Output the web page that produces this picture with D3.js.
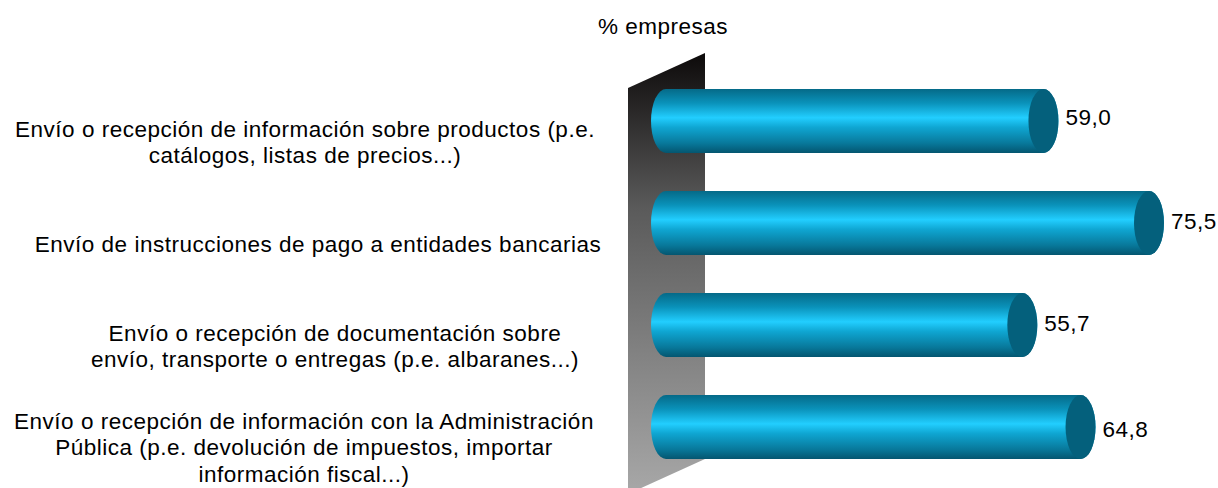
<!DOCTYPE html>
<html>
<head>
<meta charset="utf-8">
<script src="https://cdn.jsdelivr.net/npm/d3@7"></script>
<style>
  html, body { margin: 0; padding: 0; background: #fff; }
  svg { display: block; }
  text { font-family: "Liberation Sans", Arial, sans-serif; font-size: 22.5px; letter-spacing: 0.5px; fill: #000; }
</style>
</head>
<body>
<div id="chart"></div>
<script>
'use strict';
var categories = ['info', 'pago', 'envio', 'admin'];
var values = [59.0, 75.5, 55.7, 64.8];
var valueLabels = ['59,0', '75,5', '55,7', '64,8'];
var categoryLines = [
  ['Envío o recepción de información sobre productos (p.e.', 'catálogos, listas de precios...)'],
  ['Envío de instrucciones de pago a entidades bancarias'],
  ['Envío o recepción de documentación sobre', 'envío, transporte o entregas (p.e. albaranes...)'],
  ['Envío o recepción de información con la Administración', 'Pública (p.e. devolución de impuestos, importar', 'información fiscal...)']
];
var axisTitle = '% empresas';

var width = 1218;
var height = 488;
var capRadius = 15;
var labelCentres = [305, 318, 335, 304];
var firstBaselineOffset = [48, 61, 48, 34];
var valueBaselineOffset = [4, 6, 6, 10];
var lineHeight = 26.3;

var svg = d3.select('#chart').append('svg')
  .attr('width', width)
  .attr('height', height);

var x = d3.scaleLinear().domain([0, 75.5]).range([666, 1149]);
var y = d3.scaleBand().domain(categories).range([70, 478]).paddingInner(0.373).paddingOuter(0.186);

var defs = svg.append('defs');

var wallGradient = defs.append('linearGradient')
  .attr('id', 'wall')
  .attr('x1', 0).attr('y1', 0).attr('x2', 0).attr('y2', 1);
wallGradient.append('stop').attr('offset', '0%').attr('stop-color', '#0d0a0a');
wallGradient.append('stop').attr('offset', '35%').attr('stop-color', '#5a5a5a');
wallGradient.append('stop').attr('offset', '100%').attr('stop-color', '#a8a8a8');

var barGradient = defs.append('linearGradient')
  .attr('id', 'cylinder')
  .attr('x1', 0).attr('y1', 0).attr('x2', 0).attr('y2', 1);
[
  ['0%', '#056a88'], ['22%', '#0a92ba'], ['45%', '#22ceff'],
  ['60%', '#0fa6d2'], ['85%', '#08789a'], ['100%', '#045670']
].forEach(function(stop) {
  barGradient.append('stop').attr('offset', stop[0]).attr('stop-color', stop[1]);
});

// back wall, slanted like the 3D chart it comes from
svg.append('path')
  .attr('d', 'M628,88L705,53L705,459L628,494Z')
  .attr('fill', 'url(#wall)');

function barPath(d, i) {
  var top = y(categories[i]);
  var ry = y.bandwidth() / 2;
  var x0 = x(0);
  var x1 = x(d);
  return 'M' + x0 + ',' + top +
    'L' + x1 + ',' + top +
    'A' + capRadius + ',' + ry + ' 0 0 1 ' + x1 + ',' + (top + 2 * ry) +
    'L' + x0 + ',' + (top + 2 * ry) +
    'A' + capRadius + ',' + ry + ' 0 0 1 ' + x0 + ',' + top + 'Z';
}

var bars = svg.selectAll('g.bar')
  .data(values)
  .enter()
  .append('g')
  .attr('class', 'bar');

bars.append('path')
  .attr('d', barPath)
  .attr('fill', 'url(#cylinder)');

bars.append('ellipse')
  .attr('cx', function(d) { return x(d); })
  .attr('cy', function(d, i) { return y(categories[i]) + y.bandwidth() / 2; })
  .attr('rx', capRadius)
  .attr('ry', y.bandwidth() / 2)
  .attr('fill', '#04607c');

bars.append('text')
  .attr('x', function(d) { return x(d) + capRadius + 7; })
  .attr('y', function(d, i) { return y(categories[i]) + y.bandwidth() / 2 + valueBaselineOffset[i]; })
  .text(function(d, i) { return valueLabels[i]; });

categoryLines.forEach(function(lines, i) {
  svg.selectAll('text.cat' + i)
    .data(lines)
    .enter()
    .append('text')
    .attr('class', 'cat' + i)
    .attr('text-anchor', 'middle')
    .attr('x', labelCentres[i])
    .attr('y', function(d, j) {
      return y(categories[i]) + firstBaselineOffset[i] + j * lineHeight;
    })
    .text(function(d) { return d; });
});

svg.append('text')
  .attr('x', 663)
  .attr('y', 34)
  .attr('text-anchor', 'middle')
  .text(axisTitle);
</script>
</body>
</html>
